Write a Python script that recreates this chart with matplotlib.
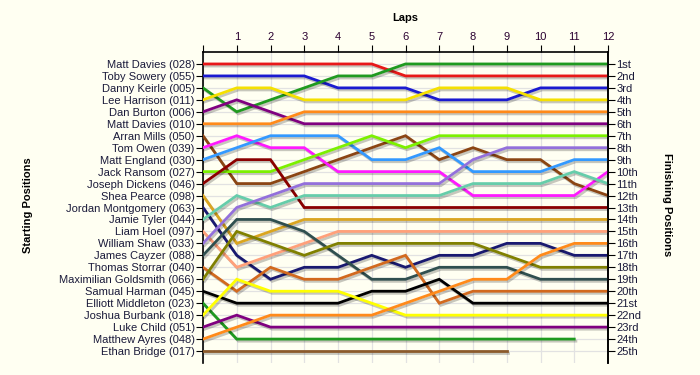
import matplotlib
matplotlib.use("Agg")
import matplotlib.pyplot as plt
import matplotlib.patheffects as pe
import numpy as np

# ---------------- data ----------------
laps = list(range(13))
drivers = ["Matt Davies (028)", "Toby Sowery (055)", "Danny Keirle (005)", "Lee Harrison (011)",
           "Dan Burton (006)", "Matt Davies (010)", "Arran Mills (050)", "Tom Owen (039)",
           "Matt England (030)", "Jack Ransom (027)", "Joseph Dickens (046)", "Shea Pearce (098)",
           "Jordan Montgomery (063)", "Jamie Tyler (044)", "Liam Hoel (097)", "William Shaw (033)",
           "James Cayzer (088)", "Thomas Storrar (040)", "Maximilian Goldsmith (066)",
           "Samual Harman (045)", "Elliott Middleton (023)", "Joshua Burbank (018)",
           "Luke Child (051)", "Matthew Ayres (048)", "Ethan Bridge (017)"]
finish_labels = ["1st", "2nd", "3rd", "4th", "5th", "6th", "7th", "8th", "9th", "10th",
                 "11th", "12th", "13th", "14th", "15th", "16th", "17th", "18th", "19th",
                 "20th", "21st", "22nd", "23rd", "24th", "25th"]

N = None
pos_davies_028 = [1, 1, 1, 1, 1, 1, 2, 2, 2, 2, 2, 2, 2]
pos_sowery = [2, 2, 2, 2, 3, 3, 3, 4, 4, 4, 3, 3, 3]
pos_keirle = [3, 5, 4, 3, 2, 2, 1, 1, 1, 1, 1, 1, 1]
pos_harrison = [4, 3, 3, 4, 4, 4, 4, 3, 3, 3, 4, 4, 4]
pos_burton = [5, 4, 5, 6, 6, 6, 6, 6, 6, 6, 6, 6, 6]
pos_davies_010 = [6, 6, 6, 5, 5, 5, 5, 5, 5, 5, 5, 5, 5]
pos_mills = [7, 11, 11, 10, 9, 8, 7, 9, 8, 9, 9, 11, 12]
pos_owen = [8, 7, 8, 8, 10, 10, 10, 10, 12, 12, 12, 12, 10]
pos_england = [9, 8, 7, 7, 7, 9, 9, 8, 10, 10, 10, 9, 9]
pos_ransom = [10, 10, 10, 9, 8, 7, 8, 7, 7, 7, 7, 7, 7]
pos_dickens = [11, 9, 9, 13, 13, 13, 13, 13, 13, 13, 13, 13, 13]
pos_pearce = [12, 16, 15, 14, 14, 14, 14, 14, 14, 14, 14, 14, 14]
pos_montgomery = [13, 17, 19, 18, 18, 17, 18, 17, 17, 16, 16, 17, 17]
pos_tyler = [14, 12, 13, 12, 12, 12, 12, 12, 11, 11, 11, 10, 11]
pos_hoel = [15, 18, 17, 16, 15, 15, 15, 15, 15, 15, 15, 15, 15]
pos_shaw = [16, 13, 12, 11, 11, 11, 11, 11, 9, 8, 8, 8, 8]
pos_cayzer = [17, 14, 14, 15, 17, 19, 19, 18, 18, 18, 19, 19, 19]
pos_storrar = [18, 20, 18, 19, 19, 18, 17, 21, 20, 20, 20, 20, 20]
pos_goldsmith = [19, 15, 16, 17, 16, 16, 16, 16, 16, 17, 18, 18, 18]
pos_harman = [20, 21, 21, 21, 21, 20, 20, 19, 21, 21, 21, 21, 21]
pos_middleton = [21, 24, 24, 24, 24, 24, 24, 24, 24, 24, 24, 24, N]
pos_burbank = [22, 19, 20, 20, 20, 21, 22, 22, 22, 22, 22, 22, 22]
pos_child = [23, 22, 23, 23, 23, 23, 23, 23, 23, 23, 23, 23, 23]
pos_ayres = [24, 23, 22, 22, 22, 22, 21, 20, 19, 19, 17, 16, 16]
pos_bridge = [25, 25, 25, 25, 25, 25, 25, 25, 25, 25, N, N, N]

series = [pos_davies_028, pos_sowery, pos_keirle, pos_harrison, pos_burton, pos_davies_010,
          pos_mills, pos_owen, pos_england, pos_ransom, pos_dickens, pos_pearce,
          pos_montgomery, pos_tyler, pos_hoel, pos_shaw, pos_cayzer, pos_storrar,
          pos_goldsmith, pos_harman, pos_middleton, pos_burbank, pos_child, pos_ayres,
          pos_bridge]

colors = ["#e81818", "#1a1ad0", "#1f9a1f", "#f5e000", "#800080", "#ff8a1a",
          "#8b4513", "#ff1aff", "#3399ff", "#7cf000", "#8b0000", "#daa520",
          "#191970", "#66cdaa", "#ffa07a", "#9370db", "#2f4f4f", "#d2691e",
          "#808000", "#000000", "#1f9a1f", "#ffff00", "#800080", "#ff8a1a",
          "#8b5a2b"]

# ---------------- figure ----------------
bg = "#fffff2"
fig = plt.figure(figsize=(7, 3.75), dpi=100, facecolor=bg)
ax = fig.add_axes([203 / 700, 1 - 363 / 375, 405 / 700, 311 / 375])
ax.set_facecolor(bg)

x = np.array(laps, dtype=float)
for s, c in zip(series, colors):
    y = np.array([np.nan if v is None else v for v in s], dtype=float)
    ax.plot(x, y, color=c, lw=2.0, solid_joinstyle="miter",
            path_effects=[pe.SimpleLineShadow(offset=(1.2, -1.5), shadow_color="k", alpha=0.22),
                          pe.Normal()], zorder=3)

ax.set_xlim(0, 12)
ax.set_ylim(26, 0)

ax.set_xticks(laps)
ax.set_xticklabels([""] + [str(v) for v in laps[1:]])
ax.xaxis.tick_top()
ax.set_yticks(range(1, 26))
ax.set_yticklabels(drivers)

txtc = "#1a1a3a"
ax.tick_params(axis="x", which="both", top=True, bottom=False, direction="out", length=5,
               labelsize=8, labelcolor="#2a0030", pad=2)
ax.tick_params(axis="y", direction="out", length=5, labelsize=8, labelcolor=txtc, pad=1)
for lbl in ax.get_yticklabels() + ax.get_xticklabels():
    lbl.set_fontfamily("Liberation Sans")

ax.grid(True, color="#e2e2e2", lw=0.9, zorder=0)
ax.set_axisbelow(True)
for side in ["left", "top", "right"]:
    ax.spines[side].set_color("black")
    ax.spines[side].set_linewidth(1.2)
ax.spines["bottom"].set_visible(False)

ax2 = ax.twinx()
ax2.set_ylim(26, 0)
ax2.set_yticks(range(1, 26))
ax2.set_yticklabels(finish_labels)
ax2.tick_params(axis="y", direction="out", length=5, labelsize=8, labelcolor=txtc, pad=1)
for lbl in ax2.get_yticklabels():
    lbl.set_fontfamily("Liberation Sans")
ax2.spines["bottom"].set_visible(False)
ax2.spines["top"].set_visible(False)
ax2.spines["left"].set_visible(False)
ax2.spines["right"].set_linewidth(1.2)

fig.text(405 / 700, 1 - 18 / 375, "Laps", ha="center", va="center", fontsize=8,
         fontweight="bold", family="Liberation Sans", color="black")
fig.text(28 / 700, 1 - 205 / 375, "Starting Positions", ha="center", va="center",
         rotation=90, fontsize=8, fontweight="bold", family="Liberation Sans", color="black")
fig.text(667 / 700, 1 - 205 / 375, "Finishing Positions", ha="center", va="center",
         rotation=-90, fontsize=8, fontweight="bold", family="Liberation Sans", color="black")

fig.savefig("out.png", dpi=100, facecolor=bg)
